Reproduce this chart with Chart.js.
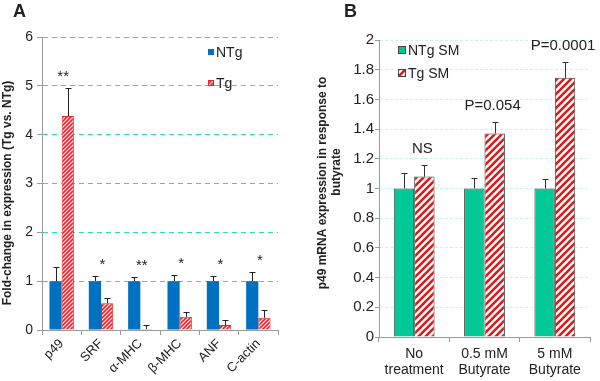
<!DOCTYPE html>
<html><head><meta charset="utf-8">
<script src="https://cdn.jsdelivr.net/npm/chart.js@4"></script>
<style>
html,body{margin:0;padding:0;background:#fff;}
#wrap{position:relative;width:600px;height:381px;overflow:hidden;background:#fff;}
.panel{position:absolute;top:0;height:381px;width:300px;}
#pa{left:0}#pb{left:300px}
.letter{position:absolute;top:1px;font:bold 18px "Liberation Sans",Arial,sans-serif;color:#222;}
</style></head><body>
<div id="wrap">
<div class="panel" id="pa"><canvas id="ca" width="300" height="381"></canvas></div>
<div class="panel" id="pb"><canvas id="cb" width="300" height="381"></canvas></div>
<div class="letter" style="left:13px">A</div>
<div class="letter" style="left:344px">B</div>
</div>
<script>
// ---- Panel A data ----
const genesA = ['p49', 'SRF', 'α-MHC', 'β-MHC', 'ANF', 'C-actin'];
const ntgA = [1, 1, 1, 1, 1, 1];
const ntgErrA = [1.3, 1.1, 1.09, 1.13, 1.11, 1.19];
const tgA = [4.38, 0.55, 0.02, 0.27, 0.1, 0.25];
const tgErrA = [4.95, 0.65, 0.1, 0.36, 0.2, 0.4];
const sigA = ['**', '*', '**', '*', '*', '*'];
const ticksA = [0, 1, 2, 3, 4, 5, 6];
const titleA = 'Fold-change in expression (Tg vs. NTg)';
const seriesA = ['NTg', 'Tg'];

// ---- Panel B data ----
const treatB = [['No', 'treatment'], ['0.5 mM', 'Butyrate'], ['5 mM', 'Butyrate']];
const ntgB = [1, 1, 1];
const ntgErrB = [1.105, 1.07, 1.065];
const tgB = [1.08, 1.37, 1.745];
const tgErrB = [1.155, 1.45, 1.85];
const sigB = ['NS', 'P=0.054', 'P=0.0001'];
const ticksB = [0, 0.2, 0.4, 0.6, 0.8, 1, 1.2, 1.4, 1.6, 1.8, 2];
const titleB = ['p49 mRNA expression in response to', 'butyrate'];
const seriesB = ['NTg SM', 'Tg SM'];

const F = '"Liberation Sans", Arial, sans-serif';

function hatch(ctx, color, size, lw) {
  const c = document.createElement('canvas');
  c.width = c.height = size;
  const g = c.getContext('2d');
  g.fillStyle = '#fff'; g.fillRect(0, 0, size, size);
  g.strokeStyle = color; g.lineWidth = lw;
  g.beginPath();
  g.moveTo(-size, size * 2); g.lineTo(size * 2, -size);
  g.moveTo(-size, size); g.lineTo(size, -size);
  g.moveTo(0, size * 2); g.lineTo(size * 2, 0);
  g.stroke();
  return ctx.createPattern(c, 'repeat');
}

function errPlugin(errs, cap, color) {
  return {
    id: 'errbars',
    afterDatasetsDraw(chart) {
      const ctx = chart.ctx, ys = chart.scales.y;
      chart.data.datasets.forEach((ds, di) => {
        const meta = chart.getDatasetMeta(di);
        meta.data.forEach((el, i) => {
          const top = Math.round(ys.getPixelForValue(errs[di][i])) + 0.5;
          const x = Math.round(el.x) + 0.5;
          ctx.save();
          ctx.strokeStyle = color; ctx.lineWidth = 1;
          ctx.beginPath();
          ctx.moveTo(x, el.y); ctx.lineTo(x, top);
          ctx.moveTo(x - cap / 2, top); ctx.lineTo(x + cap / 2, top);
          ctx.stroke();
          ctx.restore();
        });
      });
    }
  };
}

function sigPlugin(labels, errs, font, lift, shift) {
  return {
    id: 'sig',
    afterDatasetsDraw(chart) {
      const ctx = chart.ctx, ys = chart.scales.y;
      const m0 = chart.getDatasetMeta(0), m1 = chart.getDatasetMeta(1);
      ctx.save();
      ctx.font = font; ctx.fillStyle = '#222';
      ctx.textAlign = 'center'; ctx.textBaseline = 'alphabetic';
      labels.forEach((t, i) => {
        const a = m0.data[i], b = m1.data[i];
        const cx = (a.x + b.x) / 2 + shift * (b.x - a.x) / 2;
        const top = Math.min(ys.getPixelForValue(errs[0][i]), ys.getPixelForValue(errs[1][i]));
        ctx.fillText(t, cx, top - lift);
      });
      ctx.restore();
    }
  };
}

function legendPlugin(dx, dy, gap, box, font, stroke) {
  return {
    id: 'lgd',
    afterDraw(chart) {
      const ctx = chart.ctx, ca = chart.chartArea;
      ctx.save();
      chart.data.datasets.forEach((ds, i) => {
        const x = ca.left + dx, cy = ca.top + dy + i * gap;
        ctx.fillStyle = ds.backgroundColor;
        ctx.fillRect(x, cy - box / 2, box, box);
        const sc = stroke || ds.borderColor;
        if (sc && (stroke || ds.borderWidth)) {
          ctx.strokeStyle = sc; ctx.lineWidth = 1;
          ctx.strokeRect(x + 0.5, cy - box / 2 + 0.5, box - 1, box - 1);
        }
        ctx.fillStyle = '#222'; ctx.font = font;
        ctx.textAlign = 'left'; ctx.textBaseline = 'middle';
        ctx.fillText(ds.label, x + box + 2, cy + 1);
      });
      ctx.restore();
    }
  };
}

function titlePlugin(lines, xs, ys, font) {
  return {
    id: 'ytitle',
    afterDraw(chart) {
      const ctx = chart.ctx;
      ctx.save();
      ctx.font = font; ctx.fillStyle = '#222';
      ctx.textAlign = 'center'; ctx.textBaseline = 'middle';
      lines.forEach((t, i) => {
        ctx.save();
        ctx.translate(xs[i], ys[i]);
        ctx.rotate(-Math.PI / 2);
        ctx.fillText(t, 0, 0);
        ctx.restore();
      });
      ctx.restore();
    }
  };
}

const fmt = v => String(+Number(v).toFixed(1));

// ---- Chart A ----
const ctxA = document.getElementById('ca').getContext('2d');
const patA = hatch(ctxA, '#e3262d', 4, 1.7);
new Chart(ctxA, {
  type: 'bar',
  data: {
    labels: genesA,
    datasets: [
      { label: seriesA[0], data: ntgA, backgroundColor: '#0070C0', borderWidth: 0 },
      { label: seriesA[1], data: tgA, backgroundColor: patA, borderColor: '#e3262d', borderWidth: 1 }
    ]
  },
  options: {
    responsive: false, animation: false, devicePixelRatio: 1,
    layout: { padding: { top: 37, right: 22, left: 0, bottom: 0 } },
    plugins: { legend: { display: false }, tooltip: { enabled: false } },
    datasets: { bar: { categoryPercentage: 0.62, barPercentage: 1 } },
    scales: {
      x: {
        grid: { offset: true, drawOnChartArea: false, drawTicks: true, tickLength: 5, color: '#9a9a9a' },
        border: { color: '#9a9a9a' },
        ticks: { maxRotation: 45, minRotation: 45, font: { size: 13, family: F }, color: '#222', padding: 1 },
        afterFit(s) { s.height = 51; }
      },
      y: {
        min: 0, max: 6,
        afterBuildTicks(s) { s.ticks = ticksA.map(v => ({ value: v })); },
        grid: {
          color: c => (c.tick && c.tick.value === 0) ? 'rgba(0,0,0,0)' : '#2fd9b4',
          tickColor: '#9a9a9a', tickLength: 5, tickBorderDash: [], lineWidth: 1
        },
        border: { color: '#9a9a9a', dash: [5, 4] },
        ticks: { font: { size: 14, family: F }, color: '#222', padding: 4, callback: fmt },
        afterFit(s) { s.width = 42; }
      }
    }
  },
  plugins: [
    errPlugin([ntgErrA, tgErrA], 6, '#222'),
    sigPlugin(sigA, [ntgErrA, tgErrA], '15px ' + F, 7, 0.25),
    legendPlugin(166, 15, 31, 6, '14px ' + F, null),
    titlePlugin([titleA], [8], [193], 'bold 12px ' + F)
  ]
});

// ---- Chart B ----
const ctxB = document.getElementById('cb').getContext('2d');
const patB = hatch(ctxB, '#d91c1c', 7, 2.6);
new Chart(ctxB, {
  type: 'bar',
  data: {
    labels: treatB,
    datasets: [
      { label: seriesB[0], data: ntgB, backgroundColor: '#00C896', borderColor: '#444', borderWidth: 1 },
      { label: seriesB[1], data: tgB, backgroundColor: patB, borderColor: '#444', borderWidth: 1 }
    ]
  },
  options: {
    responsive: false, animation: false, devicePixelRatio: 1,
    layout: { padding: { top: 40, right: 10, left: 0, bottom: 0 } },
    plugins: { legend: { display: false }, tooltip: { enabled: false } },
    datasets: { bar: { categoryPercentage: 0.58, barPercentage: 1 } },
    scales: {
      x: {
        grid: { offset: true, drawOnChartArea: false, drawTicks: true, tickLength: 5, color: '#9a9a9a' },
        border: { color: '#9a9a9a' },
        ticks: { maxRotation: 0, minRotation: 0, font: { size: 14, family: F, lineHeight: 1.15 }, color: '#222', padding: 4 },
        afterFit(s) { s.height = 44; }
      },
      y: {
        min: 0, max: 2,
        afterBuildTicks(s) { s.ticks = ticksB.map(v => ({ value: v })); },
        grid: {
          color: c => (c.tick && c.tick.value === 0) ? 'rgba(0,0,0,0)' : '#c8f3ea',
          tickColor: '#9a9a9a', tickLength: 4, tickBorderDash: [], lineWidth: 1
        },
        border: { color: '#9a9a9a', dash: [3, 2] },
        ticks: { font: { size: 15, family: F }, color: '#222', padding: 1, callback: fmt },
        afterFit(s) { s.width = 79; }
      }
    }
  },
  plugins: [
    errPlugin([ntgErrB, tgErrB], 6, '#333'),
    sigPlugin(sigB, [ntgErrB, tgErrB], '15px ' + F, 12, 0.8),
    legendPlugin(19, 10, 23, 8, '14px ' + F, '#444'),
    titlePlugin(titleB, [23, 37], [183, 172], 'bold 12px ' + F)
  ]
});
</script>
</body></html>
